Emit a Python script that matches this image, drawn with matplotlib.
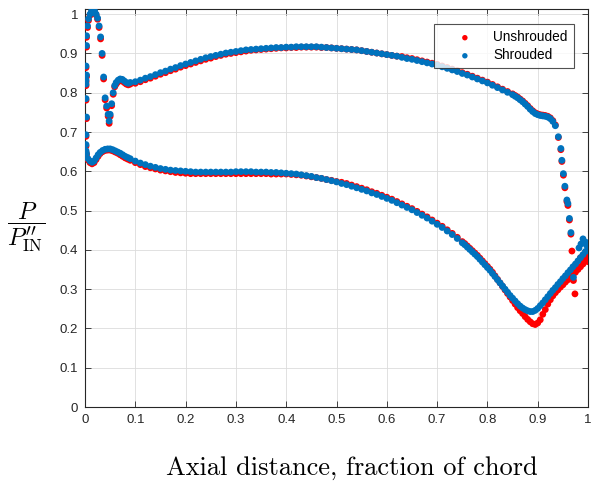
import numpy as np
import matplotlib
matplotlib.use("Agg")
import matplotlib.pyplot as plt

plt.rcParams["mathtext.fontset"] = "cm"

RED, BLUE, AX, GRIDC = "#FF0000", "#0072BD", "#262626", "#DCDCDC"

# ---- leading edge / upper-surface nose (x, y) ----
le_x = [0.002, 0.002, 0.002, 0.003, 0.002, 0.002, 0.002, 0.003, 0.002, 0.003,
        0.003, 0.005, 0.007, 0.010, 0.013, 0.016, 0.019, 0.022, 0.025, 0.028,
        0.031, 0.034, 0.037, 0.040, 0.043, 0.046, 0.048, 0.050, 0.053, 0.056,
        0.059, 0.062, 0.066, 0.070, 0.074, 0.078, 0.082, 0.086]
le_shr = [0.652, 0.668, 0.693, 0.738, 0.785, 0.822, 0.832, 0.845, 0.868, 0.920,
          0.945, 0.970, 0.988, 1.000, 1.008, 1.012, 1.008, 1.000, 0.990, 0.970,
          0.942, 0.900, 0.840, 0.787, 0.766, 0.745, 0.728, 0.745, 0.772, 0.800,
          0.818, 0.826, 0.832, 0.835, 0.834, 0.830, 0.826, 0.824]
le_uns = [0.648, 0.664, 0.689, 0.734, 0.781, 0.818, 0.828, 0.841, 0.864, 0.916,
          0.941, 0.966, 0.984, 0.997, 1.005, 1.009, 1.006, 0.998, 0.987, 0.966,
          0.937, 0.895, 0.835, 0.782, 0.761, 0.740, 0.722, 0.740, 0.767, 0.796,
          0.815, 0.822, 0.828, 0.831, 0.830, 0.826, 0.822, 0.820]

# ---- upper curve ----
up_x = [0.09, 0.10, 0.11, 0.12, 0.13, 0.14, 0.15, 0.16, 0.17, 0.18, 0.19,
        0.20, 0.21, 0.22, 0.23, 0.24, 0.25, 0.26, 0.27, 0.28, 0.29,
        0.30, 0.31, 0.32, 0.33, 0.34, 0.35, 0.36, 0.37, 0.38, 0.39,
        0.40, 0.41, 0.42, 0.43, 0.44, 0.45, 0.46, 0.47, 0.48, 0.49,
        0.50, 0.51, 0.52, 0.53, 0.54, 0.55, 0.56, 0.57, 0.58, 0.59,
        0.60, 0.61, 0.62, 0.63, 0.64, 0.65, 0.66, 0.67, 0.68, 0.69,
        0.70, 0.71, 0.72, 0.73, 0.74, 0.75, 0.76, 0.77, 0.78, 0.79,
        0.80, 0.81, 0.82, 0.83, 0.84, 0.85, 0.855, 0.86, 0.865, 0.87,
        0.875, 0.88, 0.885, 0.89, 0.895, 0.90, 0.905, 0.91, 0.915, 0.92,
        0.925, 0.93, 0.935]
up_shr = [0.826, 0.828, 0.832, 0.837, 0.841, 0.846, 0.851, 0.855, 0.860, 0.864, 0.869,
          0.873, 0.877, 0.881, 0.885, 0.889, 0.892, 0.895, 0.898, 0.901, 0.903,
          0.905, 0.907, 0.909, 0.910, 0.911, 0.912, 0.913, 0.914, 0.915, 0.915,
          0.916, 0.916, 0.917, 0.917, 0.917, 0.917, 0.917, 0.916, 0.915, 0.914,
          0.913, 0.912, 0.911, 0.910, 0.909, 0.907, 0.905, 0.903, 0.901, 0.899,
          0.897, 0.895, 0.893, 0.890, 0.887, 0.885, 0.882, 0.879, 0.876, 0.873,
          0.870, 0.866, 0.862, 0.858, 0.854, 0.849, 0.845, 0.840, 0.835, 0.830,
          0.825, 0.819, 0.813, 0.807, 0.801, 0.795, 0.791, 0.787, 0.782, 0.777,
          0.771, 0.765, 0.758, 0.752, 0.747, 0.744, 0.742, 0.741, 0.740, 0.738,
          0.734, 0.727, 0.716]
up_uns = [0.822, 0.824, 0.828, 0.833, 0.837, 0.842, 0.847, 0.851, 0.856, 0.860, 0.865,
          0.869, 0.873, 0.877, 0.881, 0.885, 0.888, 0.892, 0.895, 0.898, 0.900,
          0.902, 0.904, 0.906, 0.908, 0.909, 0.910, 0.911, 0.912, 0.913, 0.914,
          0.914, 0.915, 0.915, 0.916, 0.916, 0.916, 0.916, 0.915, 0.915, 0.914,
          0.913, 0.912, 0.911, 0.910, 0.909, 0.907, 0.905, 0.903, 0.901, 0.899,
          0.897, 0.895, 0.893, 0.892, 0.889, 0.887, 0.884, 0.881, 0.878, 0.875,
          0.872, 0.868, 0.864, 0.860, 0.856, 0.851, 0.847, 0.842, 0.837, 0.832,
          0.827, 0.821, 0.815, 0.809, 0.803, 0.797, 0.793, 0.789, 0.784, 0.779,
          0.773, 0.767, 0.760, 0.754, 0.749, 0.746, 0.744, 0.743, 0.742, 0.740,
          0.736, 0.729, 0.718]

# ---- trailing edge (sparse drop) ----
te_x_shr = [0.941, 0.946, 0.948, 0.951, 0.954, 0.958, 0.960, 0.963, 0.966, 0.971,
            0.982, 0.986, 0.990, 0.994, 0.997, 0.999]
te_shr = [0.688, 0.658, 0.628, 0.594, 0.562, 0.527, 0.518, 0.480, 0.444, 0.330,
          0.405, 0.415, 0.428, 0.420, 0.412, 0.418]
te_x_uns = [0.941, 0.946, 0.948, 0.951, 0.954, 0.958, 0.960, 0.963, 0.966, 0.968,
            0.971, 0.974, 0.985, 0.990, 0.995, 0.998, 1.000]
te_uns = [0.686, 0.655, 0.625, 0.590, 0.558, 0.523, 0.513, 0.476, 0.440, 0.397,
          0.322, 0.288, 0.380, 0.375, 0.385, 0.390, 0.370]

# ---- lower curve ----
lo_x = [0.003, 0.006, 0.010, 0.014, 0.018, 0.022, 0.026, 0.030, 0.035, 0.040,
        0.045, 0.050, 0.055, 0.060, 0.065, 0.070, 0.075, 0.080, 0.085,
        0.09, 0.10, 0.11, 0.12, 0.13, 0.14, 0.15, 0.16, 0.17, 0.18, 0.19,
        0.20, 0.21, 0.22, 0.23, 0.24, 0.25, 0.26, 0.27, 0.28, 0.29,
        0.30, 0.31, 0.32, 0.33, 0.34, 0.35, 0.36, 0.37, 0.38, 0.39,
        0.40, 0.41, 0.42, 0.43, 0.44, 0.45, 0.46, 0.47, 0.48, 0.49,
        0.50, 0.51, 0.52, 0.53, 0.54, 0.55, 0.56, 0.57, 0.58, 0.59,
        0.60, 0.61, 0.62, 0.63, 0.64, 0.65, 0.66, 0.67, 0.68, 0.69,
        0.70, 0.71, 0.72, 0.73, 0.74, 0.75, 0.755, 0.76, 0.765, 0.77,
        0.775, 0.78, 0.785, 0.79, 0.795, 0.80, 0.805, 0.81, 0.815, 0.82,
        0.825, 0.83, 0.835, 0.84, 0.845, 0.85, 0.855, 0.86, 0.865, 0.87,
        0.875, 0.88, 0.885, 0.89, 0.895, 0.90, 0.905, 0.91, 0.915, 0.92,
        0.925, 0.93, 0.935, 0.94, 0.945, 0.95, 0.955, 0.96, 0.965, 0.97,
        0.975, 0.98, 0.985, 0.99, 0.995, 1.0]
lo_shr = [0.645, 0.632, 0.626, 0.623, 0.626, 0.634, 0.642, 0.648, 0.653, 0.656,
          0.657, 0.657, 0.655, 0.652, 0.649, 0.646, 0.642, 0.638, 0.635,
          0.632, 0.626, 0.621, 0.617, 0.613, 0.610, 0.607, 0.605, 0.603, 0.602, 0.601,
          0.600, 0.599, 0.598, 0.598, 0.598, 0.598, 0.598, 0.598, 0.598, 0.598,
          0.599, 0.599, 0.599, 0.599, 0.598, 0.598, 0.598, 0.597, 0.597, 0.596,
          0.595, 0.594, 0.593, 0.591, 0.589, 0.587, 0.584, 0.582, 0.579, 0.576,
          0.573, 0.569, 0.566, 0.562, 0.558, 0.554, 0.550, 0.545, 0.541, 0.536,
          0.531, 0.526, 0.520, 0.514, 0.508, 0.502, 0.495, 0.488, 0.481, 0.473,
          0.465, 0.457, 0.448, 0.439, 0.429, 0.418, 0.413, 0.407, 0.401, 0.395,
          0.389, 0.383, 0.376, 0.369, 0.362, 0.355, 0.348, 0.340, 0.332, 0.324,
          0.316, 0.308, 0.300, 0.292, 0.284, 0.277, 0.270, 0.263, 0.257, 0.252,
          0.248, 0.245, 0.243, 0.243, 0.246, 0.251, 0.258, 0.265, 0.273, 0.281,
          0.289, 0.297, 0.304, 0.312, 0.319, 0.327, 0.334, 0.342, 0.349, 0.357,
          0.364, 0.372, 0.380, 0.388, 0.396, 0.405]
lo_uns = [0.642, 0.629, 0.622, 0.619, 0.622, 0.630, 0.638, 0.645, 0.650, 0.653,
          0.654, 0.654, 0.652, 0.649, 0.646, 0.642, 0.638, 0.634, 0.631,
          0.628, 0.622, 0.617, 0.612, 0.609, 0.606, 0.603, 0.601, 0.599, 0.597, 0.596,
          0.595, 0.594, 0.594, 0.594, 0.594, 0.594, 0.594, 0.594, 0.594, 0.594,
          0.594, 0.594, 0.594, 0.594, 0.594, 0.594, 0.594, 0.593, 0.593, 0.593,
          0.593, 0.592, 0.591, 0.590, 0.588, 0.586, 0.584, 0.582, 0.579, 0.577,
          0.574, 0.572, 0.569, 0.565, 0.561, 0.557, 0.553, 0.548, 0.544, 0.539,
          0.534, 0.529, 0.523, 0.517, 0.511, 0.505, 0.498, 0.491, 0.484, 0.476,
          0.468, 0.460, 0.451, 0.442, 0.432, 0.421, 0.416, 0.410, 0.404, 0.398,
          0.392, 0.386, 0.379, 0.372, 0.365, 0.358, 0.351, 0.343, 0.334, 0.325,
          0.316, 0.307, 0.298, 0.289, 0.280, 0.271, 0.262, 0.253, 0.245, 0.238,
          0.230, 0.223, 0.217, 0.212, 0.210, 0.214, 0.222, 0.236, 0.248, 0.262,
          0.273, 0.283, 0.291, 0.298, 0.305, 0.311, 0.318, 0.324, 0.330, 0.337,
          0.343, 0.350, 0.357, 0.364, 0.372, 0.380]

x_ticks = [0, 0.1, 0.2, 0.3, 0.4, 0.5, 0.6, 0.7, 0.8, 0.9, 1]
y_ticks = [0, 0.1, 0.2, 0.3, 0.4, 0.5, 0.6, 0.7, 0.8, 0.9, 1]
tick_labels = ["0", "0.1", "0.2", "0.3", "0.4", "0.5", "0.6", "0.7", "0.8", "0.9", "1"]

fig = plt.figure(figsize=(5.92, 4.83), dpi=100, facecolor="white")
ax = fig.add_axes([0.1436, 0.1573, 0.8497, 0.824])

ms = 24
ax.scatter(le_x + up_x + te_x_uns + lo_x, le_uns + up_uns + te_uns + lo_uns,
           s=ms, color=RED, edgecolors="none", label="Unshrouded", zorder=3)
ax.scatter(le_x + up_x + te_x_shr + lo_x, le_shr + up_shr + te_shr + lo_shr,
           s=ms, color=BLUE, edgecolors="none", label="Shrouded", zorder=4)

ax.set_xlim(0, 1)
ax.set_ylim(0, 1.013)
ax.set_xticks(x_ticks)
ax.set_xticklabels(tick_labels)
ax.set_yticks(y_ticks)
ax.set_yticklabels(tick_labels)
ax.grid(True, color=GRIDC, linewidth=0.6)
ax.set_axisbelow(True)
for sp in ax.spines.values():
    sp.set_color(AX)
    sp.set_linewidth(0.8)
ax.tick_params(direction="in", length=4, width=0.6, colors=AX, labelsize=9.5,
               top=True, right=True, pad=5)
for lab in ax.get_xticklabels() + ax.get_yticklabels():
    lab.set_fontfamily("Liberation Sans")

ax.set_xlabel("Axial distance, fraction of chord", fontfamily="cmr10",
              fontsize=19, color="black", va="center")
ax.xaxis.set_label_coords(0.531, -0.153)
ax.set_ylabel(r"$\dfrac{P}{P^{\prime\prime}_{\rm IN}}$", rotation=0, fontsize=17.5,
              color="black", va="center", ha="center")
ax.yaxis.set_label_coords(-0.117, 0.452)

leg = ax.legend(loc="upper right", bbox_to_anchor=(0.972, 0.962), frameon=True,
                fancybox=False, edgecolor=AX, markerscale=0.8, borderaxespad=0,
                handletextpad=0.3, borderpad=0.45, labelspacing=0.3,
                handlelength=3.6, prop={"family": "Liberation Sans", "size": 9.8})
leg.get_frame().set_linewidth(0.8)

fig.savefig("out.png", dpi=100, facecolor="white")
